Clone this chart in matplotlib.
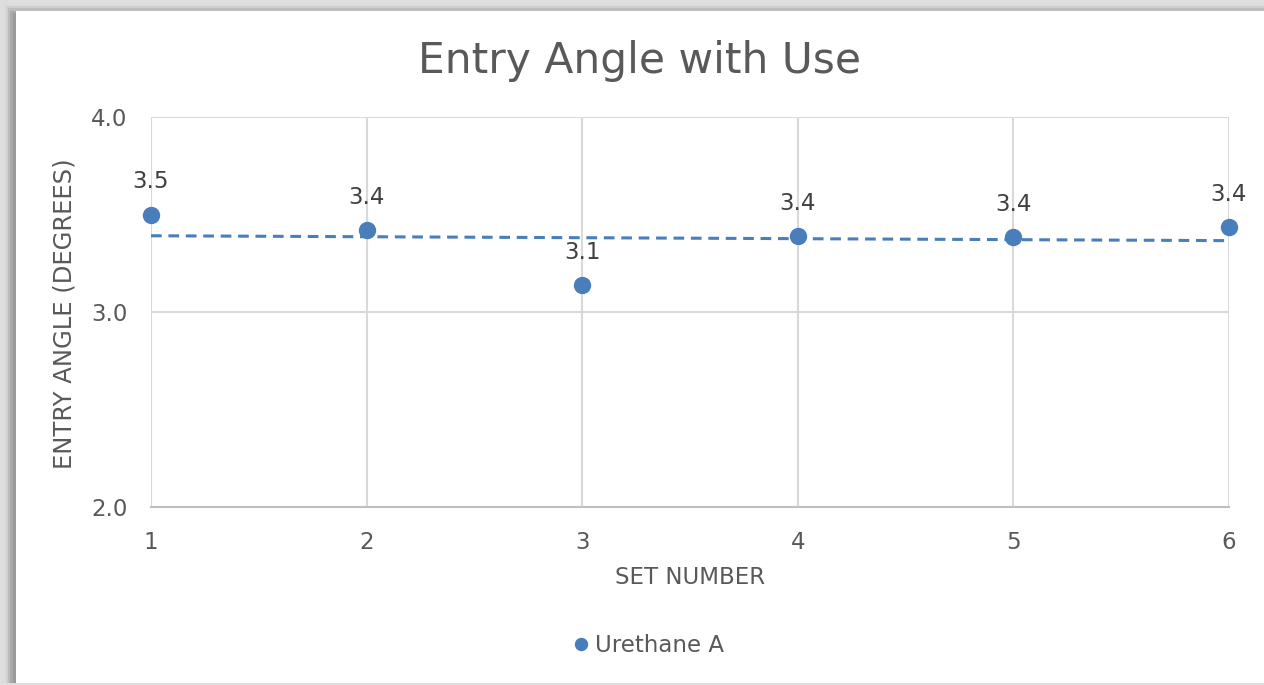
import numpy as np
import matplotlib
matplotlib.use('Agg')
import matplotlib.pyplot as plt
from matplotlib.patches import Rectangle

# set numbers and measured entry angles
set_numbers = [1, 2, 3, 4, 5, 6]
entry_angle = [3.50, 3.42, 3.14, 3.39, 3.385, 3.436]
series_name = 'Urethane A'

blue = '#4a7ebb'
text_grey = '#595959'
grid_grey = '#d9d9d9'

plt.rcParams['font.family'] = 'DejaVu Sans'

fig = plt.figure(figsize=(12.64, 6.85), dpi=100)
W, H = 1264, 685

# drop shadow frame around the chart area
fig.patches.append(Rectangle((0, 0), 1, 1, transform=fig.transFigure,
                             facecolor='#dedede', edgecolor='none', zorder=-5))
for i, c in enumerate(['#dcdcdc', '#cfcfcf', '#bdbdbd', '#a9a9a9', '#9a9a9a']):
    off = 3 + i * 2.5
    fig.patches.append(Rectangle((off / W, 2 / H), 1, 1 - (off + 2) / H, transform=fig.transFigure,
                                 facecolor=c, edgecolor='none', zorder=-4 + i * 0.1))
fig.patches.append(Rectangle((16 / W, 2 / H), 1, 1 - 13 / H, transform=fig.transFigure,
                             facecolor='white', edgecolor='none', zorder=-3))

ax = fig.add_axes([151 / W, 1 - 507 / H, (1229 - 151) / W, (507 - 117) / H])
ax.set_facecolor('none')

x = np.array(set_numbers)
y = np.array(entry_angle)

# linear trendline
slope, icpt = np.polyfit(x, y, 1)
ax.plot(x, slope * x + icpt, color=blue, lw=2.2, dashes=(3.5, 2.2), zorder=2)

ax.plot(x, y, 'o', color=blue, ms=11.5, label=series_name, zorder=3, clip_on=False)

for xi, yi in zip(x, y):
    ax.annotate(f'{yi:.1f}', (xi, yi), xytext=(0, 23.5), textcoords='offset points',
                ha='center', va='center', fontsize=16.5, color='#404040')

ax.set_xlim(1, 6)
ax.set_ylim(2, 4)
ax.set_xticks(set_numbers)
ax.set_yticks([2.0, 3.0, 4.0])
ax.set_yticklabels(['2.0', '3.0', '4.0'])
ax.grid(True, color=grid_grey, lw=1.5)
ax.set_axisbelow(True)
for s in ax.spines.values():
    s.set_visible(False)
ax.spines['bottom'].set_visible(True)
ax.spines['bottom'].set_color('#bfbfbf')
ax.spines['bottom'].set_linewidth(1.5)
ax.tick_params(length=0, labelsize=16.5, colors=text_grey)
ax.tick_params(axis='x', pad=17)
ax.tick_params(axis='y', pad=17)

fig.text(690 / W, 1 - 578 / H, 'SET NUMBER', ha='center', va='center',
         fontsize=16.5, color=text_grey)
fig.text(65 / W, 1 - 314 / H, 'ENTRY ANGLE (DEGREES)', ha='center', va='center',
         rotation=90, fontsize=17.5, color=text_grey)

fig.text(640 / W, 1 - 61 / H, 'Entry Angle with Use', ha='center', va='center',
         fontsize=30.5, color=text_grey)

ax.legend(loc='center', bbox_to_anchor=(647 / W, 1 - 646 / H), bbox_transform=fig.transFigure,
          frameon=False, fontsize=16.5, labelcolor=text_grey, handletextpad=0.1,
          markerscale=0.75, handlelength=1)

fig.savefig('out.png', dpi=100)
